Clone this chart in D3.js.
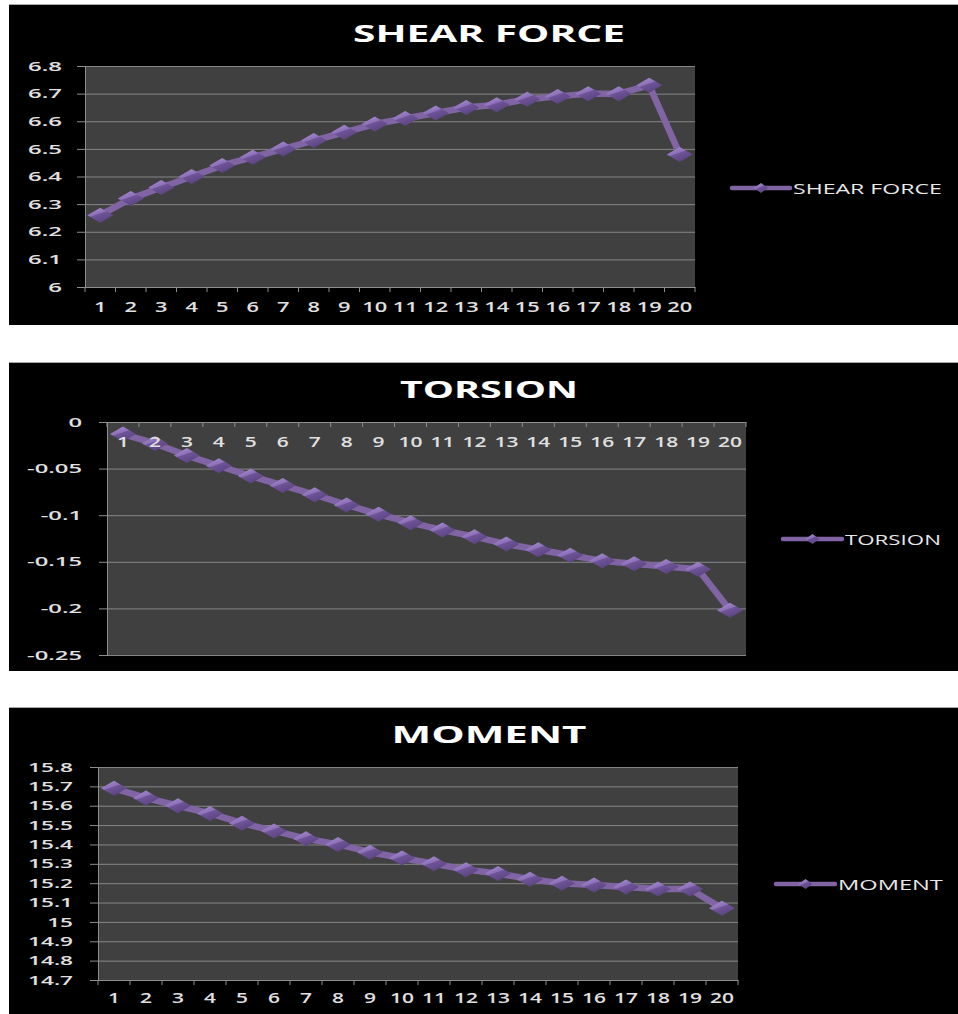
<!DOCTYPE html>
<html>
<head>
<meta charset="utf-8">
<script src="https://cdn.jsdelivr.net/npm/d3@7"></script>
<style>
  body { margin: 0; background: #ffffff; }
  svg { display: block; }
  text { font-family: "Open Sans", "DejaVu Sans", sans-serif; }
</style>
</head>
<body>
<svg id="chart" width="958" height="1014"></svg>
<script>
// Station numbers along the member
const categories = ["1","2","3","4","5","6","7","8","9","10","11","12","13","14","15","16","17","18","19","20"];

// Result series
const shearForce = [6.26, 6.32, 6.36, 6.40, 6.44, 6.47, 6.50, 6.53, 6.56, 6.59,
                    6.61, 6.63, 6.65, 6.66, 6.68, 6.69, 6.70, 6.70, 6.73, 6.48];
const torsion = [-0.013, -0.023, -0.036, -0.047, -0.058, -0.068, -0.078, -0.089, -0.099, -0.108,
                 -0.116, -0.123, -0.131, -0.137, -0.143, -0.149, -0.152, -0.155, -0.158, -0.202];
const moment = [15.69, 15.64, 15.60, 15.56, 15.51, 15.47, 15.43, 15.40, 15.36, 15.33,
                15.30, 15.27, 15.25, 15.22, 15.20, 15.19, 15.18, 15.17, 15.17, 15.07];

// Value-axis tick labels
const shearTicks = [6, 6.1, 6.2, 6.3, 6.4, 6.5, 6.6, 6.7, 6.8];
const torsionTicks = [-0.25, -0.2, -0.15, -0.1, -0.05, 0];
const momentTicks = [14.7, 14.8, 14.9, 15, 15.1, 15.2, 15.3, 15.4, 15.5, 15.6, 15.7, 15.8];

const titles = ["SHEAR FORCE", "TORSION", "MOMENT"];

// Panel layout; the *W entries are the drawn widths of the widest label of each kind
const panels = [
  { title: titles[0], values: shearForce, ticks: shearTicks,
    box: [9, 4, 958, 325], plot: [85, 66, 695, 287], titleY: 42,
    legend: { x1: 732, x2: 790, y: 188 }, yPad: 15, xPad: 15, axisAtZero: false,
    yLabelW: 35, xLabelW: 25, titleW: 272, legendW: 149 },
  { title: titles[1], values: torsion, ticks: torsionTicks,
    box: [9, 362, 958, 671], plot: [107, 422, 746, 655], titleY: 398,
    legend: { x1: 783, x2: 842, y: 539 }, yPad: 17, xPad: 15, axisAtZero: true,
    yLabelW: 55, xLabelW: 24, titleW: 178, legendW: 96 },
  { title: titles[2], values: moment, ticks: momentTicks,
    box: [9, 707, 958, 1014], plot: [98, 767, 738, 980], titleY: 743,
    legend: { x1: 776, x2: 835, y: 884 }, yPad: 17, xPad: 13, axisAtZero: false,
    yLabelW: 46, xLabelW: 24, titleW: 195, legendW: 105 }
];

const COLORS = {
  panel: "#000000",
  plot: "#404040",
  grid: "#868686",
  axis: "#8e8e8e",
  label: "#e0e0e0",
  line: "#8064a4"
};

const svg = d3.select("#chart");

// Bevelled marker fill
const defs = svg.append("defs");
const grad = defs.append("linearGradient").attr("id", "diamondFill")
  .attr("x1", "0").attr("y1", "0").attr("x2", "0.6").attr("y2", "1");
grad.append("stop").attr("offset", "0%").attr("stop-color", "#ae97d6");
grad.append("stop").attr("offset", "48%").attr("stop-color", "#8c6fb8");
grad.append("stop").attr("offset", "52%").attr("stop-color", "#6f5498");
grad.append("stop").attr("offset", "100%").attr("stop-color", "#5a437f");

const diamond = (w, h) => `M0,${-h / 2}L${w / 2},0L0,${h / 2}L${-w / 2},0Z`;

// Stretch a group of labels horizontally so the widest one spans `target` px
function stretchTo(sel, target) {
  let maxW = 0;
  sel.each(function () { maxW = Math.max(maxW, this.getBBox().width); });
  const sx = maxW > 0 ? target / maxW : 1;
  sel.each(function () {
    const t = d3.select(this);
    const x = +t.attr("x") || 0;
    t.attr("x", x / sx).attr("transform", `scale(${sx},1)`);
  });
}

const fmt = d => String(+(+d).toFixed(2));

panels.forEach(p => {
  const [bx0, by0, bx1, by1] = p.box;
  const [l, t, r, b] = p.plot;
  const g = svg.append("g");

  g.append("rect").attr("x", bx0).attr("y", by0).attr("width", bx1 - bx0).attr("height", by1 - by0)
    .attr("fill", COLORS.panel);
  g.append("line").attr("x1", bx0).attr("x2", bx1).attr("y1", by0 + 0.5).attr("y2", by0 + 0.5)
    .attr("stroke", "#a8a8a8").attr("stroke-width", 1);

  const x = d3.scaleBand().domain(categories).range([l, r]);
  const y = d3.scaleLinear().domain(d3.extent(p.ticks)).range([b, t]);

  g.append("rect").attr("x", l).attr("y", t).attr("width", r - l).attr("height", b - t)
    .attr("fill", COLORS.plot);

  // Gridlines
  g.append("g").attr("transform", `translate(${l},0)`)
    .call(d3.axisLeft(y).tickValues(p.ticks).tickSize(-(r - l)).tickFormat(""))
    .call(s => s.select(".domain").remove())
    .call(s => s.selectAll("line").attr("stroke", COLORS.grid).attr("stroke-width", 1));

  // Series
  const cx = (d, i) => x(categories[i]) + x.bandwidth() / 2;
  g.append("path").datum(p.values)
    .attr("d", d3.line().x(cx).y(d => y(d)))
    .attr("fill", "none").attr("stroke", COLORS.line).attr("stroke-width", 6.5)
    .attr("stroke-linejoin", "round");
  g.selectAll("path.mark").data(p.values).join("path").attr("class", "mark")
    .attr("transform", (d, i) => `translate(${cx(d, i)},${y(d)})`)
    .attr("d", diamond(26, 15))
    .attr("fill", "url(#diamondFill)");

  // Value axis
  const yAxis = g.append("g").attr("transform", `translate(${l},0)`)
    .call(d3.axisLeft(y).tickValues(p.ticks).tickSize(8).tickPadding(p.yPad).tickFormat(fmt));
  yAxis.select(".domain").attr("stroke", COLORS.axis);
  yAxis.selectAll("line").attr("stroke", COLORS.axis);
  yAxis.selectAll("text").attr("fill", COLORS.label).attr("font-size", 13).attr("font-weight", 600);
  stretchTo(yAxis.selectAll("text"), p.yLabelW);

  // Category axis (drawn over the series so labels inside the plot stay readable)
  const axisY = p.axisAtZero ? y(0) : b;
  const xAxis = g.append("g").attr("transform", `translate(0,${axisY})`)
    .call(d3.axisBottom(x).tickSize(0).tickPadding(p.xPad));
  xAxis.select(".domain").attr("stroke", COLORS.axis);
  xAxis.selectAll("text").attr("fill", COLORS.label).attr("font-size", 14).attr("font-weight", 600);
  stretchTo(xAxis.selectAll("text"), p.xLabelW);
  // tick marks between categories
  const edges = categories.map(c => x(c)).concat([x.range()[1]]);
  xAxis.selectAll("line.edge").data(edges).join("line").attr("class", "edge")
    .attr("x1", d => d).attr("x2", d => d).attr("y1", 0).attr("y2", 5)
    .attr("stroke", COLORS.axis).attr("stroke-width", 1);

  // Title
  const title = g.append("g").attr("transform", `translate(489,${p.titleY})`)
    .append("text").attr("text-anchor", "middle")
    .attr("font-size", 23).attr("font-weight", 700).attr("fill", "#ffffff").text(p.title);
  stretchTo(title, p.titleW);

  // Legend
  const lg = g.append("g");
  lg.append("line").attr("x1", p.legend.x1).attr("x2", p.legend.x2)
    .attr("y1", p.legend.y).attr("y2", p.legend.y)
    .attr("stroke", COLORS.line).attr("stroke-width", 4.5).attr("stroke-linecap", "round");
  lg.append("path").attr("transform", `translate(${(p.legend.x1 + p.legend.x2) / 2},${p.legend.y})`)
    .attr("d", diamond(14, 10)).attr("fill", "url(#diamondFill)");
  const lt = lg.append("g").attr("transform", `translate(${p.legend.x2 + 3},${p.legend.y + 5.5})`)
    .append("text").attr("font-size", 14.5).attr("fill", "#e8e8e8").text(p.title);
  stretchTo(lt, p.legendW);
});
</script>
</body>
</html>
